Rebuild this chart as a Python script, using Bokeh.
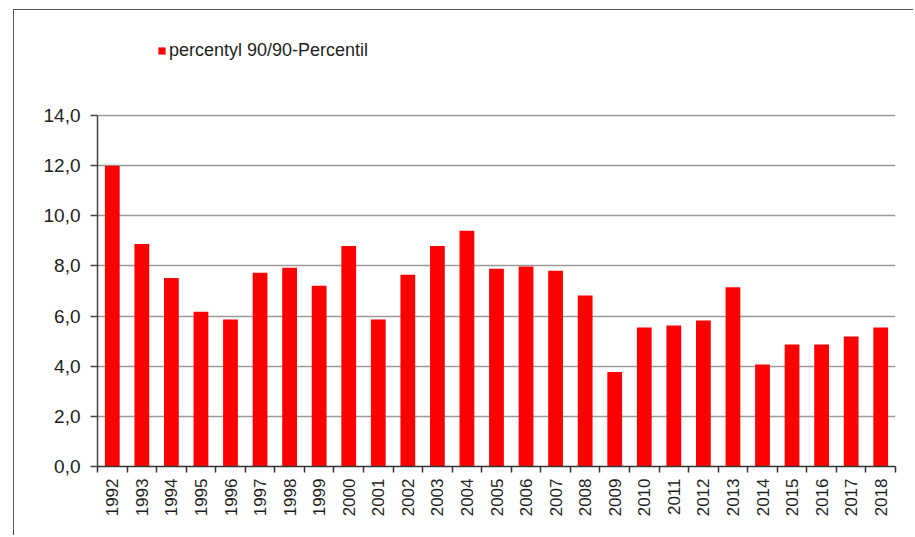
import math
from bokeh.plotting import figure
from bokeh.models import ColumnDataSource, Range1d, FixedTicker, Legend, LegendItem
from bokeh.embed import file_html
from bokeh.resources import INLINE

# ---- data ----
years = ["1992", "1993", "1994", "1995", "1996", "1997", "1998", "1999", "2000",
         "2001", "2002", "2003", "2004", "2005", "2006", "2007", "2008", "2009",
         "2010", "2011", "2012", "2013", "2014", "2015", "2016", "2017", "2018"]
values = [12.0, 8.87, 7.52, 6.17, 5.86, 7.73, 7.93, 7.21, 8.79,
          5.86, 7.65, 8.79, 9.40, 7.89, 7.98, 7.81, 6.82, 3.77,
          5.54, 5.62, 5.82, 7.15, 4.07, 4.87, 4.87, 5.19, 5.54]
y_ticks = [0, 2, 4, 6, 8, 10, 12, 14]
series_name = "percentyl 90/90-Percentil"

FONT = "Liberation Sans"
TXT = "#1e1e1e"

# layout (pixels inside the figure)
W, H = 900, 526
FRAME_TOP_14 = 105      # where 14,0 sits
FRAME_BOTTOM = 456      # where 0,0 sits
TOP_BORDER = 20
y_max = y_ticks[-1]
y_end = y_max * (FRAME_BOTTOM - TOP_BORDER) / (FRAME_BOTTOM - FRAME_TOP_14)

n = len(years)
xpos = [i + 0.5 for i in range(n)]
src = ColumnDataSource(dict(x=xpos, top=values, year=years))

p = figure(width=W, height=H, output_backend="svg", toolbar_location=None,
           x_range=Range1d(0, n), y_range=Range1d(0, y_end),
           min_border_left=83, min_border_right=W - 881, min_border_top=TOP_BORDER,
           min_border_bottom=H - FRAME_BOTTOM)
p.styles = {"margin-left": "13px", "margin-top": "9px",
            "border-top": "1px solid #555555", "border-left": "1px solid #555555"}
p.background_fill_color = "white"
p.border_fill_color = "white"
p.outline_line_color = None

r = p.vbar(x="x", top="top", width=0.5, bottom=0, source=src,
           fill_color="#ff0000", line_color=None)

# x axis: ticks at category boundaries, labels at centres
xa = p.xaxis[0]
xa.ticker = FixedTicker(ticks=xpos, minor_ticks=list(range(n + 1)))
xa.major_label_overrides = {x: y for x, y in zip(xpos, years)}
xa.major_label_orientation = math.pi / 2
xa.major_tick_out = 0
xa.major_tick_in = 0
xa.minor_tick_out = 6
xa.minor_tick_in = 0
xa.minor_tick_line_color = "#333333"
xa.minor_tick_line_width = 1.5
xa.axis_line_color = "#333333"
xa.axis_line_width = 1.5
xa.major_label_text_font = FONT
xa.major_label_text_font_size = "17px"
xa.major_label_text_color = TXT
xa.major_label_standoff = 6

ya = p.yaxis[0]
ya.bounds = (0, y_max)
ya.ticker = FixedTicker(ticks=y_ticks)
ya.major_label_overrides = {t: f"{t:.1f}".replace(".", ",") for t in y_ticks}
ya.minor_tick_line_color = None
ya.major_tick_out = 7
ya.major_tick_in = 0
ya.major_tick_line_color = "#444444"
ya.major_tick_line_width = 1.5
ya.axis_line_color = "#444444"
ya.axis_line_width = 1.5
ya.major_label_text_font = FONT
ya.major_label_text_font_size = "19px"
ya.major_label_text_color = TXT
ya.major_label_standoff = 10

p.xgrid.grid_line_color = None
p.ygrid.ticker = FixedTicker(ticks=y_ticks)
p.ygrid.grid_line_color = "#9a9a9a"
p.ygrid.grid_line_width = 1.5

legend = Legend(items=[LegendItem(label=series_name, renderers=[r])],
                location=(60, 405), orientation="horizontal",
                padding=0, margin=0, border_line_color=None,
                background_fill_alpha=0, glyph_width=9, glyph_height=9,
                label_standoff=3, label_text_font=FONT,
                label_text_font_size="18px", label_text_color=TXT)
p.add_layout(legend, "center")

open("out.html", "w").write(file_html(p, INLINE))
